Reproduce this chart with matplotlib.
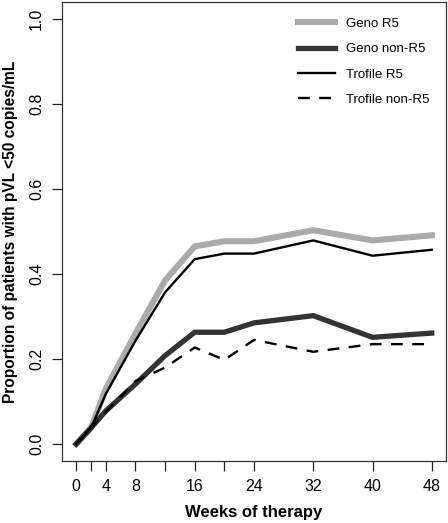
import matplotlib
matplotlib.use('Agg')
import matplotlib.pyplot as plt

plt.rcParams['font.family'] = ['Liberation Sans', 'DejaVu Sans']

weeks = [0, 2, 4, 8, 12, 16, 20, 24, 32, 40, 48]
geno_r5 = [0.0, 0.038, 0.130, 0.260, 0.385, 0.465, 0.477, 0.477, 0.503, 0.479, 0.491]
geno_non_r5 = [0.0, 0.038, 0.078, 0.141, 0.208, 0.263, 0.263, 0.285, 0.302, 0.251, 0.261]
trofile_r5 = [0.0, 0.038, 0.118, 0.243, 0.357, 0.435, 0.448, 0.448, 0.479, 0.443, 0.457]
trofile_non_r5 = [0.0, 0.038, 0.075, 0.148, 0.180, 0.227, 0.198, 0.245, 0.217, 0.235, 0.235]

tick_weeks = [0, 2, 4, 8, 12, 16, 20, 24, 32, 40, 48]
tick_labels = ['0', '', '4', '8', '', '16', '', '24', '32', '40', '48']
y_ticks = [0.0, 0.2, 0.4, 0.6, 0.8, 1.0]

fig = plt.figure(figsize=(4.48, 5.23), dpi=100)
ax = fig.add_axes([62 / 448, 62 / 523, 384 / 448, 459 / 523])

ax.plot(weeks, geno_r5, color='#aaaaaa', linewidth=4.4, label='Geno R5', solid_joinstyle='miter')
ax.plot(weeks, geno_non_r5, color='#333333', linewidth=3.8, label='Geno non-R5', solid_joinstyle='miter')
ax.plot(weeks, trofile_r5, color='black', linewidth=1.7, label='Trofile R5')
ax.plot(weeks, trofile_non_r5, color='black', linewidth=1.7, linestyle=(0, (5, 4)), label='Trofile non-R5')

ax.set_xlim(-1.92, 49.92)
ax.set_ylim(-0.04, 1.04)
ax.set_xticks(tick_weeks)
ax.set_xticklabels(tick_labels)
ax.set_yticks(y_ticks)
ax.set_yticklabels([f'{v:.1f}' for v in y_ticks], rotation=90, va='center')
ax.tick_params(axis='both', direction='out', length=7, width=0.9, labelsize=11.5, color='#222222')
ax.tick_params(axis='x', pad=6)
ax.tick_params(axis='y', pad=6)
for s in ax.spines.values():
    s.set_linewidth(0.9)
    s.set_color('#333333')

ax.set_xlabel('Weeks of therapy', fontsize=12, fontweight='bold', labelpad=8)
ax.set_ylabel('Proportion of patients with pVL <50 copies/mL', fontsize=11.2, fontweight='bold', labelpad=8)

ax.legend(loc='upper right', frameon=False, fontsize=9.5, handlelength=2.8,
          labelspacing=1.0, borderaxespad=0.6, bbox_to_anchor=(0.99, 0.995))

fig.savefig('out.png', dpi=100)
